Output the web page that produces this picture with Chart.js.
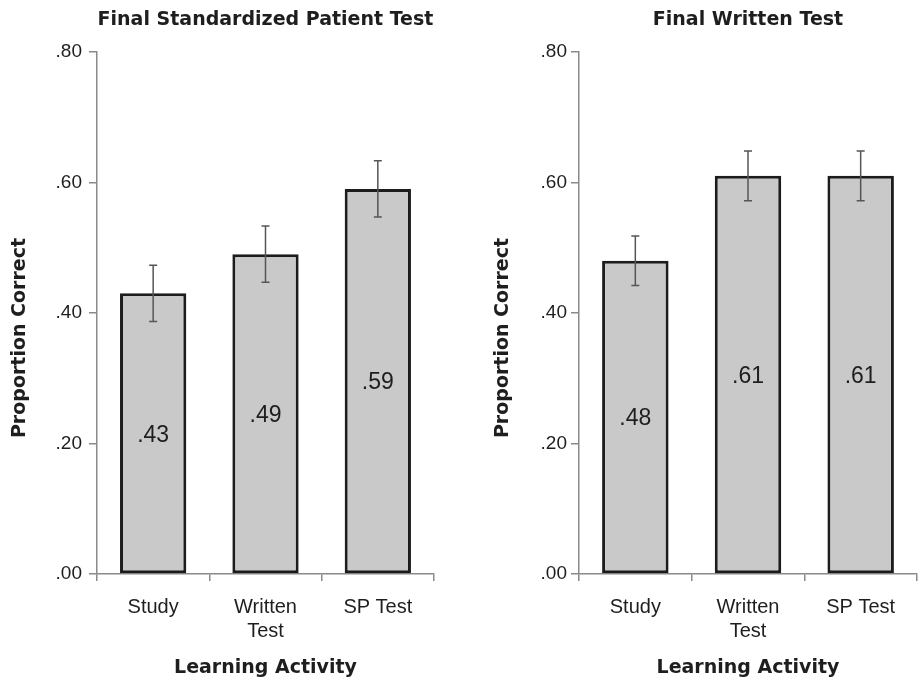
<!DOCTYPE html>
<html>
<head>
<meta charset="utf-8">
<script src="https://cdn.jsdelivr.net/npm/chart.js@4.4.1/dist/chart.umd.min.js"></script>
<style>
  body { margin: 0; background: #fff; }
  #wrap { position: relative; width: 918px; height: 682px; }
  canvas { position: absolute; top: 0; }
  #spChart { left: 0; }
  #writtenChart { left: 459px; }
</style>
</head>
<body>
<div id="wrap">
  <canvas id="spChart" width="459" height="682"></canvas>
  <canvas id="writtenChart" width="459" height="682"></canvas>
</div>
<script>
// categories on the x axis
var activities = ['Study', ['Written', 'Test'], 'SP Test'];

// final standardized patient test
var spValues = [0.43, 0.49, 0.59];
var spErrors = [0.043, 0.043, 0.043];

// final written test
var writtenValues = [0.48, 0.61, 0.61];
var writtenErrors = [0.038, 0.038, 0.038];

// y axis
var yMin = 0, yMax = 0.8, yStep = 0.2;

var textColor = '#1e1e1e';
var axisColor = '#8a8a8a';

function fmt(v) {
    return v.toFixed(2).replace(/^0/, '');
}

// error bars + value labels inside the bars
var barExtras = {
    id: 'barExtras',
    afterDatasetsDraw: function (chart, args, opts) {
        var ctx = chart.ctx;
        var y = chart.scales.y;
        var data = chart.data.datasets[0].data;
        var meta = chart.getDatasetMeta(0);
        ctx.save();
        ctx.fillStyle = textColor;
        ctx.font = '23px "Liberation Sans", Arial, sans-serif';
        ctx.textAlign = 'center';
        ctx.textBaseline = 'middle';
        meta.data.forEach(function (bar, i) {
            ctx.fillText(fmt(data[i]), bar.x, (bar.y + bar.base) / 2 + 2);
        });
        ctx.strokeStyle = '#555';
        ctx.lineWidth = 1.5;
        meta.data.forEach(function (bar, i) {
            var top = y.getPixelForValue(data[i] + opts.errors[i]);
            var bot = y.getPixelForValue(data[i] - opts.errors[i]);
            ctx.beginPath();
            ctx.moveTo(bar.x, top); ctx.lineTo(bar.x, bot);
            ctx.moveTo(bar.x - 4, top); ctx.lineTo(bar.x + 4, top);
            ctx.moveTo(bar.x - 4, bot); ctx.lineTo(bar.x + 4, bot);
            ctx.stroke();
        });
        ctx.restore();
    }
};

// y axis title, centred on the canvas height like the original
var yTitle = {
    id: 'yTitle',
    afterDraw: function (chart, args, opts) {
        var ctx = chart.ctx;
        ctx.save();
        ctx.translate(opts.x, chart.height / 2 - 3);
        ctx.rotate(-Math.PI / 2);
        ctx.fillStyle = textColor;
        ctx.font = 'bold 19px "DejaVu Sans", sans-serif';
        ctx.textAlign = 'center';
        ctx.textBaseline = 'middle';
        ctx.fillText('Proportion Correct', 0, 0);
        ctx.restore();
    }
};

function makeChart(id, title, values, errors, axisWidth, labelPad, titleX, padRight) {
    return new Chart(document.getElementById(id), {
        type: 'bar',
        data: {
            labels: activities,
            datasets: [{
                data: values,
                backgroundColor: '#c9c9c9',
                borderColor: '#1c1c1c',
                borderWidth: 3,
                borderSkipped: false,
                categoryPercentage: 1,
                barPercentage: 0.59
            }]
        },
        options: {
            responsive: false,
            animation: false,
            layout: { padding: { left: 0, right: padRight, top: 0, bottom: 0 } },
            plugins: {
                legend: { display: false },
                tooltip: { enabled: false },
                title: {
                    display: true,
                    text: title,
                    fullSize: false,
                    color: textColor,
                    font: { family: '"DejaVu Sans", sans-serif', size: 19, weight: 'bold' },
                    padding: { top: 9, bottom: 20 }
                },
                barExtras: { errors: errors },
                yTitle: { x: titleX }
            },
            scales: {
                x: {
                    offset: true,
                    afterFit: function (s) { s.height = 108; },
                    grid: { offset: true, drawOnChartArea: false, tickLength: 7, color: axisColor, lineWidth: 1.5 },
                    border: { color: axisColor, width: 1.5 },
                    ticks: {
                        color: textColor,
                        padding: 14,
                        font: { family: '"Liberation Sans", Arial, sans-serif', size: 20 }
                    },
                    title: {
                        display: true,
                        text: 'Learning Activity',
                        color: textColor,
                        font: { family: '"DejaVu Sans", sans-serif', size: 19, weight: 'bold' },
                        padding: { top: 4, bottom: 3 }
                    }
                },
                y: {
                    min: yMin,
                    max: yMax,
                    afterFit: function (s) { s.width = axisWidth; },
                    grid: { drawOnChartArea: false, tickLength: 8, color: axisColor, lineWidth: 1.5 },
                    border: { color: axisColor, width: 1.5 },
                    ticks: {
                        stepSize: yStep,
                        color: textColor,
                        padding: labelPad,
                        font: { family: '"Liberation Sans", Arial, sans-serif', size: 19 },
                        callback: function (v) { return fmt(v); }
                    }
                }
            }
        },
        plugins: [barExtras, yTitle]
    });
}

makeChart('spChart', 'Final Standardized Patient Test', spValues, spErrors, 97, 7, 20, 25);
makeChart('writtenChart', 'Final Written Test', writtenValues, writtenErrors, 120, 4, 44, 1);
</script>
</body>
</html>
